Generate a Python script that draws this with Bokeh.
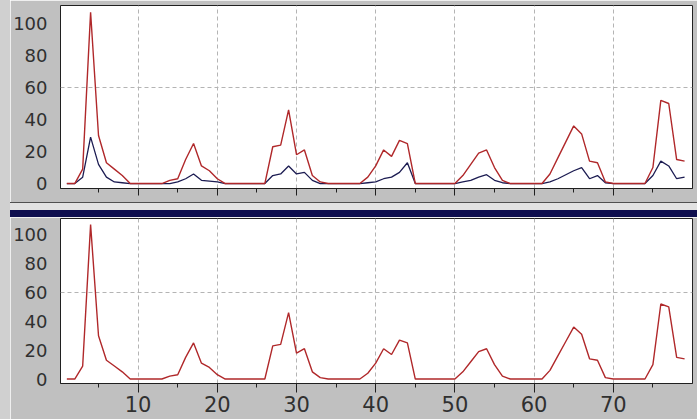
from bokeh.plotting import figure
from bokeh.layouts import column, row
from bokeh.models import Div, FixedTicker, Range1d
from bokeh.embed import file_html
from bokeh.resources import INLINE

# ---- data ----
x_vals = list(range(1, 80))
red_vals = [0, 0, 9, 107, 30, 13, 9, 5, 0, 0,
            0, 0, 0, 2, 3, 15, 25, 11, 8, 3,
            0, 0, 0, 0, 0, 0, 23, 24, 46, 18,
            21, 5, 1, 0, 0, 0, 0, 0, 4, 11,
            21, 17, 27, 25, 0, 0, 0, 0, 0, 0,
            5, 12, 19, 21, 10, 2, 0, 0, 0, 0,
            0, 6, 16, 26, 36, 31, 14, 13, 1, 0,
            0, 0, 0, 0, 10, 52, 50, 15, 14]
blue_vals = [0, 0, 4, 29, 12, 4, 1, 0.5, 0, 0,
             0, 0, 0, 0, 1, 3, 6, 2, 1.5, 1,
             0, 0, 0, 0, 0, 0, 5, 6, 11, 6,
             7, 2, 0, 0, 0, 0, 0, 0, 0.5, 1,
             3, 4, 7, 13, 0, 0, 0, 0, 0, 0,
             1, 2, 4, 5.5, 2, 0.5, 0, 0, 0, 0,
             0, 1, 3, 5.5, 8, 10, 3, 5, 0.5, 0,
             0, 0, 0, 0, 5, 14, 11, 3, 4]
x_major = [10, 20, 30, 40, 50, 60, 70]
x_minor = [5, 15, 25, 35, 45, 55, 65, 75]
y_ticks = [0, 20, 40, 60, 80, 100]

RED = "#b0282a"
BLUE = "#1c1c52"
PANEL = "#c0c0c0"
FONT = "DejaVu Sans"


def make_fig(height, top, bottom, show_labels):
    p = figure(width=687, height=height,
               x_range=Range1d(0.2, 80), y_range=Range1d(-3.1, 111.25),
               output_backend="svg", toolbar_location=None,
               min_border_left=47, min_border_right=5,
               min_border_top=top, min_border_bottom=bottom)
    p.border_fill_color = PANEL
    p.background_fill_color = "white"
    p.outline_line_color = "#202020"
    p.outline_line_width = 1

    p.xaxis.ticker = FixedTicker(ticks=x_major, minor_ticks=x_minor)
    p.xaxis.axis_line_color = "#202020"
    p.xaxis.major_tick_line_color = "#202020"
    p.xaxis.minor_tick_line_color = "#202020"
    p.xaxis.major_tick_in = 0
    p.xaxis.minor_tick_in = 0
    if show_labels:
        p.xaxis.major_tick_out = 9
        p.xaxis.minor_tick_out = 4
        p.xaxis.major_label_standoff = 3
        p.xaxis.major_label_text_font = FONT
        p.xaxis.major_label_text_font_size = "21px"
        p.xaxis.major_label_text_color = "#303030"
    else:
        p.xaxis.major_tick_out = 7
        p.xaxis.minor_tick_out = 4
        p.xaxis.major_label_overrides = {t: "" for t in x_major}
        p.xaxis.major_label_text_font_size = "0px"
        p.xaxis.major_label_standoff = 0

    p.yaxis.ticker = FixedTicker(ticks=y_ticks)
    p.yaxis.axis_line_color = None
    p.yaxis.major_tick_line_color = None
    p.yaxis.minor_tick_line_color = None
    p.yaxis.major_label_standoff = 7
    p.yaxis.major_label_text_font = FONT
    p.yaxis.major_label_text_font_size = "18px"
    p.yaxis.major_label_text_color = "#303030"

    p.xgrid.ticker = FixedTicker(ticks=x_major)
    p.ygrid.ticker = FixedTicker(ticks=[60])
    for g in (p.xgrid, p.ygrid):
        g.grid_line_color = "#b4b4b4"
        g.grid_line_dash = "4 3"
        g.grid_line_width = 1
    return p


top = make_fig(202, 5, 14, False)
top.line(x_vals, blue_vals, line_color=BLUE, line_width=1.3)
top.line(x_vals, red_vals, line_color=RED, line_width=1.4)

bottom = make_fig(203, 1, 37, True)
bottom.line(x_vals, red_vals, line_color=RED, line_width=1.4)


def band(h, color, w=687):
    return Div(text="", width=w, height=h, margin=0,
               styles={"background-color": color})


right = column(top, band(1, "#505050"), band(7, "#e2e2e2"),
               band(7, "#0e0e4e"), bottom, spacing=0)
strip = Div(text="", width=10, height=419, margin=0,
            styles={"background-color": "#d0d0d0"})
layout = row(strip, right, spacing=0)

open("out.html", "w").write(file_html(layout, INLINE))
